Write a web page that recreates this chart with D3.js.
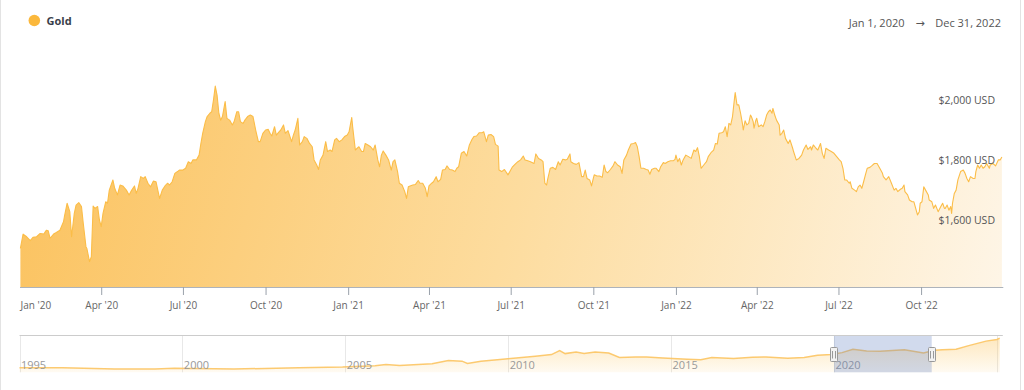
<!DOCTYPE html>
<html><head><meta charset="utf-8">
<script src="https://cdn.jsdelivr.net/npm/d3@7"></script>
<style>
html,body{margin:0;padding:0;background:#fff;}
svg{display:block;font-family:"Open Sans",sans-serif;}
</style></head><body>
<svg id="chart" width="1024" height="390"></svg>
<script>
const seriesName = "Gold";
const rangeStart = "Jan 1, 2020";
const rangeEnd = "Dec 31, 2022";
const yTickValues = [1600, 1800, 2000];
const navYearTicks = [1995, 2000, 2005, 2010, 2015, 2020, 2025];

const goldSeries = [
["2020-01-02",1506],["2020-01-05",1554],["2020-01-09",1545],["2020-01-13",1532],["2020-01-16",1543],["2020-01-20",1545],["2020-01-24",1556],["2020-01-28",1554],["2020-01-31",1567],
["2020-02-02",1565],["2020-02-04",1540],["2020-02-08",1554],["2020-02-11",1559],["2020-02-15",1567],["2020-02-19",1595],["2020-02-20",1612],["2020-02-23",1657],["2020-02-26",1629],["2020-02-28",1545],
["2020-03-02",1623],["2020-03-04",1651],["2020-03-07",1659],["2020-03-10",1646],["2020-03-12",1590],["2020-03-15",1512],["2020-03-16",1506],["2020-03-19",1462],["2020-03-21",1478],["2020-03-23",1648],["2020-03-25",1640],["2020-03-28",1646],["2020-03-30",1601],
["2020-04-01",1579],["2020-04-03",1623],["2020-04-06",1662],["2020-04-08",1657],["2020-04-10",1701],["2020-04-14",1735],["2020-04-16",1707],["2020-04-19",1685],["2020-04-22",1718],["2020-04-25",1715],["2020-04-29",1701],
["2020-05-02",1685],["2020-05-05",1701],["2020-05-08",1715],["2020-05-10",1690],["2020-05-12",1707],["2020-05-15",1746],["2020-05-18",1740],["2020-05-20",1746],["2020-05-23",1724],["2020-05-26",1712],["2020-05-29",1731],
["2020-06-01",1729],["2020-06-03",1701],["2020-06-05",1673],["2020-06-08",1701],["2020-06-11",1715],["2020-06-14",1724],["2020-06-16",1718],["2020-06-19",1729],["2020-06-22",1757],["2020-06-25",1763],["2020-06-27",1768],
["2020-07-01",1768],["2020-07-04",1774],["2020-07-07",1796],["2020-07-10",1790],["2020-07-12",1802],["2020-07-16",1802],["2020-07-19",1818],["2020-07-21",1857],["2020-07-23",1891],["2020-07-26",1930],["2020-07-28",1947],["2020-07-31",1958],
["2020-08-02",1963],["2020-08-04",2002],["2020-08-06",2049],["2020-08-08",2019],["2020-08-10",1958],["2020-08-12",1935],["2020-08-14",1947],["2020-08-17",1997],["2020-08-19",1941],["2020-08-22",1935],["2020-08-25",1919],["2020-08-27",1930],["2020-08-30",1963],
["2020-09-01",1963],["2020-09-03",1930],["2020-09-06",1924],["2020-09-08",1935],["2020-09-11",1947],["2020-09-14",1952],["2020-09-17",1947],["2020-09-20",1902],["2020-09-23",1863],["2020-09-25",1863],["2020-09-28",1891],
["2020-10-01",1902],["2020-10-04",1904],["2020-10-06",1891],["2020-10-08",1882],["2020-10-11",1913],["2020-10-13",1885],["2020-10-16",1896],["2020-10-18",1902],["2020-10-21",1919],["2020-10-23",1891],["2020-10-26",1900],["2020-10-30",1863],
["2020-11-01",1885],["2020-11-03",1902],["2020-11-06",1941],["2020-11-08",1852],["2020-11-11",1863],["2020-11-13",1880],["2020-11-16",1874],["2020-11-19",1857],["2020-11-22",1846],["2020-11-24",1802],["2020-11-27",1785],["2020-11-29",1770],
["2020-12-01",1802],["2020-12-04",1818],["2020-12-07",1863],["2020-12-09",1830],["2020-12-12",1835],["2020-12-14",1830],["2020-12-17",1869],["2020-12-19",1874],["2020-12-22",1863],["2020-12-25",1869],["2020-12-28",1880],["2020-12-31",1885],
["2021-01-02",1896],["2021-01-05",1944],["2021-01-06",1913],["2021-01-09",1835],["2021-01-11",1841],["2021-01-13",1846],["2021-01-16",1830],["2021-01-18",1830],["2021-01-20",1857],["2021-01-23",1852],["2021-01-26",1846],["2021-01-29",1835],["2021-01-31",1852],
["2021-02-03",1802],["2021-02-05",1779],["2021-02-07",1818],["2021-02-09",1832],["2021-02-12",1818],["2021-02-15",1802],["2021-02-18",1768],["2021-02-20",1796],["2021-02-22",1802],["2021-02-25",1763],["2021-02-27",1724],
["2021-03-02",1718],["2021-03-05",1696],["2021-03-07",1673],["2021-03-09",1712],["2021-03-11",1715],["2021-03-14",1718],["2021-03-17",1720],["2021-03-20",1733],["2021-03-22",1724],["2021-03-25",1724],["2021-03-28",1707],["2021-03-30",1679],
["2021-04-01",1715],["2021-04-04",1724],["2021-04-06",1729],["2021-04-09",1746],["2021-04-11",1729],["2021-04-14",1737],["2021-04-16",1768],["2021-04-19",1770],["2021-04-21",1782],["2021-04-24",1770],["2021-04-27",1768],["2021-04-30",1763],
["2021-05-02",1774],["2021-05-04",1779],["2021-05-07",1824],["2021-05-10",1830],["2021-05-13",1815],["2021-05-16",1852],["2021-05-19",1871],["2021-05-21",1880],["2021-05-24",1882],["2021-05-27",1893],["2021-05-30",1893],
["2021-06-01",1896],["2021-06-04",1863],["2021-06-06",1885],["2021-06-09",1887],["2021-06-12",1880],["2021-06-14",1854],["2021-06-17",1848],["2021-06-18",1768],["2021-06-21",1763],["2021-06-24",1770],["2021-06-28",1752],
["2021-07-01",1768],["2021-07-03",1779],["2021-07-06",1788],["2021-07-09",1796],["2021-07-12",1802],["2021-07-15",1815],["2021-07-17",1802],["2021-07-20",1799],["2021-07-23",1796],["2021-07-27",1790],["2021-07-29",1822],
["2021-08-01",1807],["2021-08-04",1802],["2021-08-06",1796],["2021-08-08",1724],["2021-08-10",1718],["2021-08-11",1735],["2021-08-14",1774],["2021-08-17",1777],["2021-08-20",1770],["2021-08-23",1796],["2021-08-25",1785],["2021-08-28",1804],["2021-08-31",1802],
["2021-09-02",1804],["2021-09-05",1822],["2021-09-06",1796],["2021-09-09",1790],["2021-09-12",1787],["2021-09-15",1793],["2021-09-18",1746],["2021-09-20",1746],["2021-09-22",1768],["2021-09-24",1740],["2021-09-27",1735],["2021-09-29",1715],
["2021-10-01",1740],["2021-10-02",1752],["2021-10-05",1748],["2021-10-08",1748],["2021-10-11",1744],["2021-10-13",1785],["2021-10-15",1763],["2021-10-17",1759],["2021-10-20",1770],["2021-10-23",1782],["2021-10-25",1796],["2021-10-28",1785],["2021-10-31",1779],
["2021-11-02",1757],["2021-11-04",1802],["2021-11-07",1818],["2021-11-09",1835],["2021-11-12",1855],["2021-11-15",1857],["2021-11-17",1860],["2021-11-19",1846],["2021-11-21",1813],["2021-11-23",1774],["2021-11-26",1774],["2021-11-29",1770],
["2021-12-01",1768],["2021-12-03",1754],["2021-12-05",1770],["2021-12-08",1774],["2021-12-10",1774],["2021-12-13",1763],["2021-12-15",1779],["2021-12-18",1793],["2021-12-20",1790],["2021-12-23",1796],["2021-12-26",1799],["2021-12-29",1799],["2021-12-31",1804],
["2022-01-01",1818],["2022-01-03",1796],["2022-01-05",1807],["2022-01-07",1785],["2022-01-09",1802],["2022-01-12",1818],["2022-01-15",1813],["2022-01-18",1807],["2022-01-21",1835],["2022-01-23",1830],["2022-01-25",1843],["2022-01-27",1815],["2022-01-29",1774],
["2022-02-01",1785],["2022-02-04",1796],["2022-02-06",1813],["2022-02-09",1826],["2022-02-12",1835],["2022-02-14",1857],["2022-02-16",1855],["2022-02-18",1891],["2022-02-21",1893],["2022-02-23",1896],["2022-02-25",1913],["2022-02-27",1880],
["2022-03-01",1924],["2022-03-03",1919],["2022-03-05",1947],["2022-03-07",2002],["2022-03-08",2027],["2022-03-10",1986],["2022-03-12",1986],["2022-03-14",1958],["2022-03-16",1924],["2022-03-17",1902],["2022-03-19",1933],["2022-03-21",1919],["2022-03-23",1924],["2022-03-25",1952],["2022-03-26",1947],["2022-03-28",1930],["2022-03-29",1908],["2022-03-31",1935],
["2022-04-01",1941],["2022-04-03",1913],["2022-04-06",1919],["2022-04-08",1913],["2022-04-10",1930],["2022-04-12",1952],["2022-04-14",1963],["2022-04-16",1969],["2022-04-18",1958],["2022-04-19",1974],["2022-04-21",1952],["2022-04-23",1935],["2022-04-26",1919],["2022-04-27",1885],["2022-04-29",1891],
["2022-05-01",1902],["2022-05-03",1874],["2022-05-06",1857],["2022-05-08",1869],["2022-05-11",1841],["2022-05-12",1830],["2022-05-15",1802],["2022-05-18",1807],["2022-05-21",1818],["2022-05-23",1835],["2022-05-26",1852],["2022-05-28",1837],["2022-05-31",1846],
["2022-06-01",1835],["2022-06-03",1852],["2022-06-06",1841],["2022-06-08",1835],["2022-06-11",1857],["2022-06-13",1824],["2022-06-15",1807],["2022-06-17",1841],["2022-06-20",1835],["2022-06-23",1830],["2022-06-26",1824],["2022-06-29",1813],
["2022-07-02",1802],["2022-07-04",1796],["2022-07-06",1774],["2022-07-08",1735],["2022-07-10",1735],["2022-07-13",1724],["2022-07-14",1729],["2022-07-16",1707],["2022-07-19",1701],["2022-07-21",1696],["2022-07-23",1712],["2022-07-25",1718],["2022-07-27",1707],["2022-07-29",1729],["2022-07-31",1752],
["2022-08-02",1774],["2022-08-05",1777],["2022-08-07",1782],["2022-08-10",1790],["2022-08-13",1790],["2022-08-16",1774],["2022-08-19",1757],["2022-08-20",1746],["2022-08-23",1735],["2022-08-26",1746],["2022-08-29",1724],
["2022-09-01",1701],["2022-09-03",1707],["2022-09-05",1696],["2022-09-08",1704],["2022-09-10",1707],["2022-09-12",1718],["2022-09-13",1696],["2022-09-16",1685],["2022-09-18",1668],["2022-09-21",1662],["2022-09-23",1662],["2022-09-25",1640],["2022-09-27",1618],["2022-09-29",1629],["2022-09-30",1657],
["2022-10-02",1662],["2022-10-04",1712],["2022-10-06",1701],["2022-10-09",1685],["2022-10-10",1668],["2022-10-13",1662],["2022-10-15",1640],["2022-10-17",1651],["2022-10-20",1629],["2022-10-23",1646],["2022-10-25",1657],["2022-10-27",1640],["2022-10-28",1640],["2022-10-30",1651],
["2022-11-01",1634],["2022-11-03",1646],["2022-11-04",1623],["2022-11-05",1657],["2022-11-07",1690],["2022-11-09",1701],["2022-11-11",1735],["2022-11-14",1763],["2022-11-17",1768],["2022-11-19",1757],["2022-11-21",1740],["2022-11-23",1729],["2022-11-25",1746],["2022-11-28",1740],["2022-11-30",1740],
["2022-12-01",1763],["2022-12-03",1785],["2022-12-05",1774],["2022-12-07",1785],["2022-12-09",1774],["2022-12-11",1779],["2022-12-13",1790],["2022-12-16",1774],["2022-12-17",1785],["2022-12-20",1790],["2022-12-23",1782],["2022-12-26",1802],["2022-12-28",1802],["2022-12-30",1812]
];

const navSeries = [
["1995-01",405],["1996-05",405],["1997-12",289],["1999-03",300],["1999-10",360],["2001-08",289],["2003-08",405],["2004-12",464],["2005-12",581],["2006-04",698],["2006-09",610],["2007-09",756],["2008-03",1048],["2008-08",989],["2008-10",785],["2009-03",989],["2009-12",1190],
["2010-11",1427],["2011-05",1573],["2011-08",1924],["2011-10",1661],["2012-02",1807],["2012-05",1661],["2012-09",1807],["2013-02",1719],["2013-06",1311],["2013-12",1369],["2014-04",1369],["2014-10",1281],["2015-07",1165],["2015-12",1106],["2016-04",1311],["2016-12",1223],["2017-07",1340],["2017-12",1369],["2018-08",1252],["2019-02",1311],["2019-07",1515],["2019-12",1573],
["2020-04",1749],["2020-08",2041],["2021-01",1895],["2021-06",1865],["2022-03",2011],["2022-10",1719],["2023-02",1950],["2023-05",2011],["2023-10",2041],["2024-03",2391],["2024-09",2771],["2025-01",2917],["2025-02",3033]
];

const parseDay = d3.timeParse("%Y-%m-%d");
const parseMonth = d3.timeParse("%Y-%m");
const data = goldSeries.map(([d, v]) => ({date: parseDay(d), value: v}));
const navData = navSeries.map(([d, v]) => ({date: parseMonth(d), value: v}));

const svg = d3.select("#chart");
const W = 1024, H = 390;
const plot = {left: 19.5, right: 1002.8, top: 85, bottom: 287};
const nav = {left: 19.5, right: 1002.8, top: 335.5, bottom: 372.3};

// frame
svg.append("line").attr("x1",0.5).attr("x2",0.5).attr("y1",0).attr("y2",H).attr("stroke","#e3e3e3");
svg.append("line").attr("x1",1020.5).attr("x2",1020.5).attr("y1",0).attr("y2",H).attr("stroke","#e3e3e3");

const defs = svg.append("defs");
const g1 = defs.append("linearGradient").attr("id","mainFill").attr("gradientUnits","userSpaceOnUse")
  .attr("x1",plot.left).attr("y1",plot.top).attr("x2",plot.right).attr("y2",plot.bottom+60);
g1.append("stop").attr("offset","0").attr("stop-color","#fbc25e");
g1.append("stop").attr("offset","0.5").attr("stop-color","#fddc9e");
g1.append("stop").attr("offset","1").attr("stop-color","#fef6e9");
const g2 = defs.append("linearGradient").attr("id","navFill").attr("x1",0).attr("y1",0).attr("x2",0).attr("y2",1);
g2.append("stop").attr("offset","0").attr("stop-color","#fcc660").attr("stop-opacity",0.4);
g2.append("stop").attr("offset","1").attr("stop-color","#fcc660").attr("stop-opacity",0.08);

const x = d3.scaleTime().domain([new Date(2020,0,1), new Date(2022,11,31)]).range([plot.left, plot.right]);
const y = d3.scaleLinear().domain([1377, 2052.5]).range([plot.bottom, plot.top]);

const area = d3.area().x(d => x(d.date)).y0(plot.bottom).y1(d => y(d.value));
const line = d3.line().x(d => x(d.date)).y(d => y(d.value));

svg.append("path").datum(data).attr("d", area).attr("fill","url(#mainFill)");
svg.append("path").datum(data).attr("d", line).attr("fill","none").attr("stroke","#fbbd48").attr("stroke-width",1.1).attr("stroke-linejoin","round");

// x axis
const xAxis = d3.axisBottom(x).ticks(d3.timeMonth.every(3)).tickFormat(d3.timeFormat("%b '%y")).tickSize(8).tickSizeOuter(0);
const gx = svg.append("g").attr("transform",`translate(0,${plot.bottom})`).call(xAxis);
gx.select(".domain").attr("stroke","#adb3bb");
gx.selectAll(".tick line").attr("stroke","#9aa1aa");
gx.selectAll(".tick text").attr("fill","#666").attr("font-size","10px").attr("font-family","Open Sans").attr("dy","1.05em");
gx.selectAll(".tick text").filter((d,i) => i === 0).attr("text-anchor","start").attr("x",0.5);
gx.selectAll(".tick").filter((d,i) => i === 0).select("line").remove();

// y labels
svg.append("g").selectAll("text").data(yTickValues).join("text")
  .attr("x",995).attr("y",d => y(d)).attr("dy","0.35em").attr("text-anchor","end")
  .attr("fill","#555").attr("font-size","10.5px")
  .text(d => "$" + d3.format(",")(d) + " USD");

// legend
svg.append("circle").attr("cx",34.3).attr("cy",20.5).attr("r",5.8).attr("fill","#fbb83c");
svg.append("text").attr("x",46.5).attr("y",24.5).attr("font-size","11px").attr("font-weight","bold").attr("fill","#3a3f4a").text(seriesName);

// date range
svg.append("text").attr("x",1001).attr("y",27).attr("text-anchor","end").attr("font-size","11px").attr("fill","#555").text(rangeEnd);
svg.append("text").attr("x",920).attr("y",26.5).attr("text-anchor","middle").attr("font-size","11px").attr("font-family","DejaVu Sans").attr("fill","#555").text("→");
svg.append("text").attr("x",904.5).attr("y",27).attr("text-anchor","end").attr("font-size","11px").attr("fill","#555").text(rangeStart);

// navigator
const nx = d3.scaleTime().domain([new Date(1995,0,1), new Date(2025,2,8)]).range([nav.left, nav.right]);
const ny = d3.scaleLinear().domain([0, 3270]).range([nav.bottom, nav.top]);
const ng = svg.append("g");
ng.selectAll("line.grid").data(navYearTicks).join("line").attr("class","grid")
  .attr("x1",d => Math.round(nx(new Date(d,0,1)))+0.5).attr("x2",d => Math.round(nx(new Date(d,0,1)))+0.5)
  .attr("y1",nav.top).attr("y2",nav.bottom).attr("stroke","#e8e8e8");
ng.append("path").datum(navData).attr("d", d3.area().x(d=>nx(d.date)).y0(nav.bottom).y1(d=>ny(d.value))).attr("fill","url(#navFill)");
ng.append("path").datum(navData).attr("d", d3.line().x(d=>nx(d.date)).y(d=>ny(d.value))).attr("fill","none").attr("stroke","#fcc462").attr("stroke-width",1.5).attr("stroke-opacity",0.9);
ng.selectAll("text.yr").data(navYearTicks.filter(d => d < 2025)).join("text").attr("class","yr")
  .attr("x",d => nx(new Date(d,0,1))+1.5).attr("y",369).attr("font-size","11px").attr("fill","#999").text(d => d);
ng.append("line").attr("x1",nav.left).attr("x2",nav.right).attr("y1",nav.top).attr("y2",nav.top).attr("stroke","#cccccc");
// selected range
const sx0 = nx(new Date(2020,0,1)), sx1 = nx(new Date(2023,0,1));
ng.append("rect").attr("x",sx0).attr("y",nav.top+0.5).attr("width",sx1-sx0).attr("height",nav.bottom-nav.top-0.5).attr("fill","rgba(102,133,194,0.3)");
[sx0, sx1].forEach(hx => {
  const h = ng.append("g").attr("transform",`translate(${Math.round(hx)},347)`);
  h.append("rect").attr("x",-3.5).attr("y",0.5).attr("width",7).attr("height",14).attr("rx",1).attr("fill","#f2f2f2").attr("stroke","#999");
  h.append("line").attr("x1",-1.5).attr("x2",-1.5).attr("y1",4).attr("y2",11.5).attr("stroke","#999");
  h.append("line").attr("x1",1.5).attr("x2",1.5).attr("y1",4).attr("y2",11.5).attr("stroke","#999");
});
</script>
</body></html>
